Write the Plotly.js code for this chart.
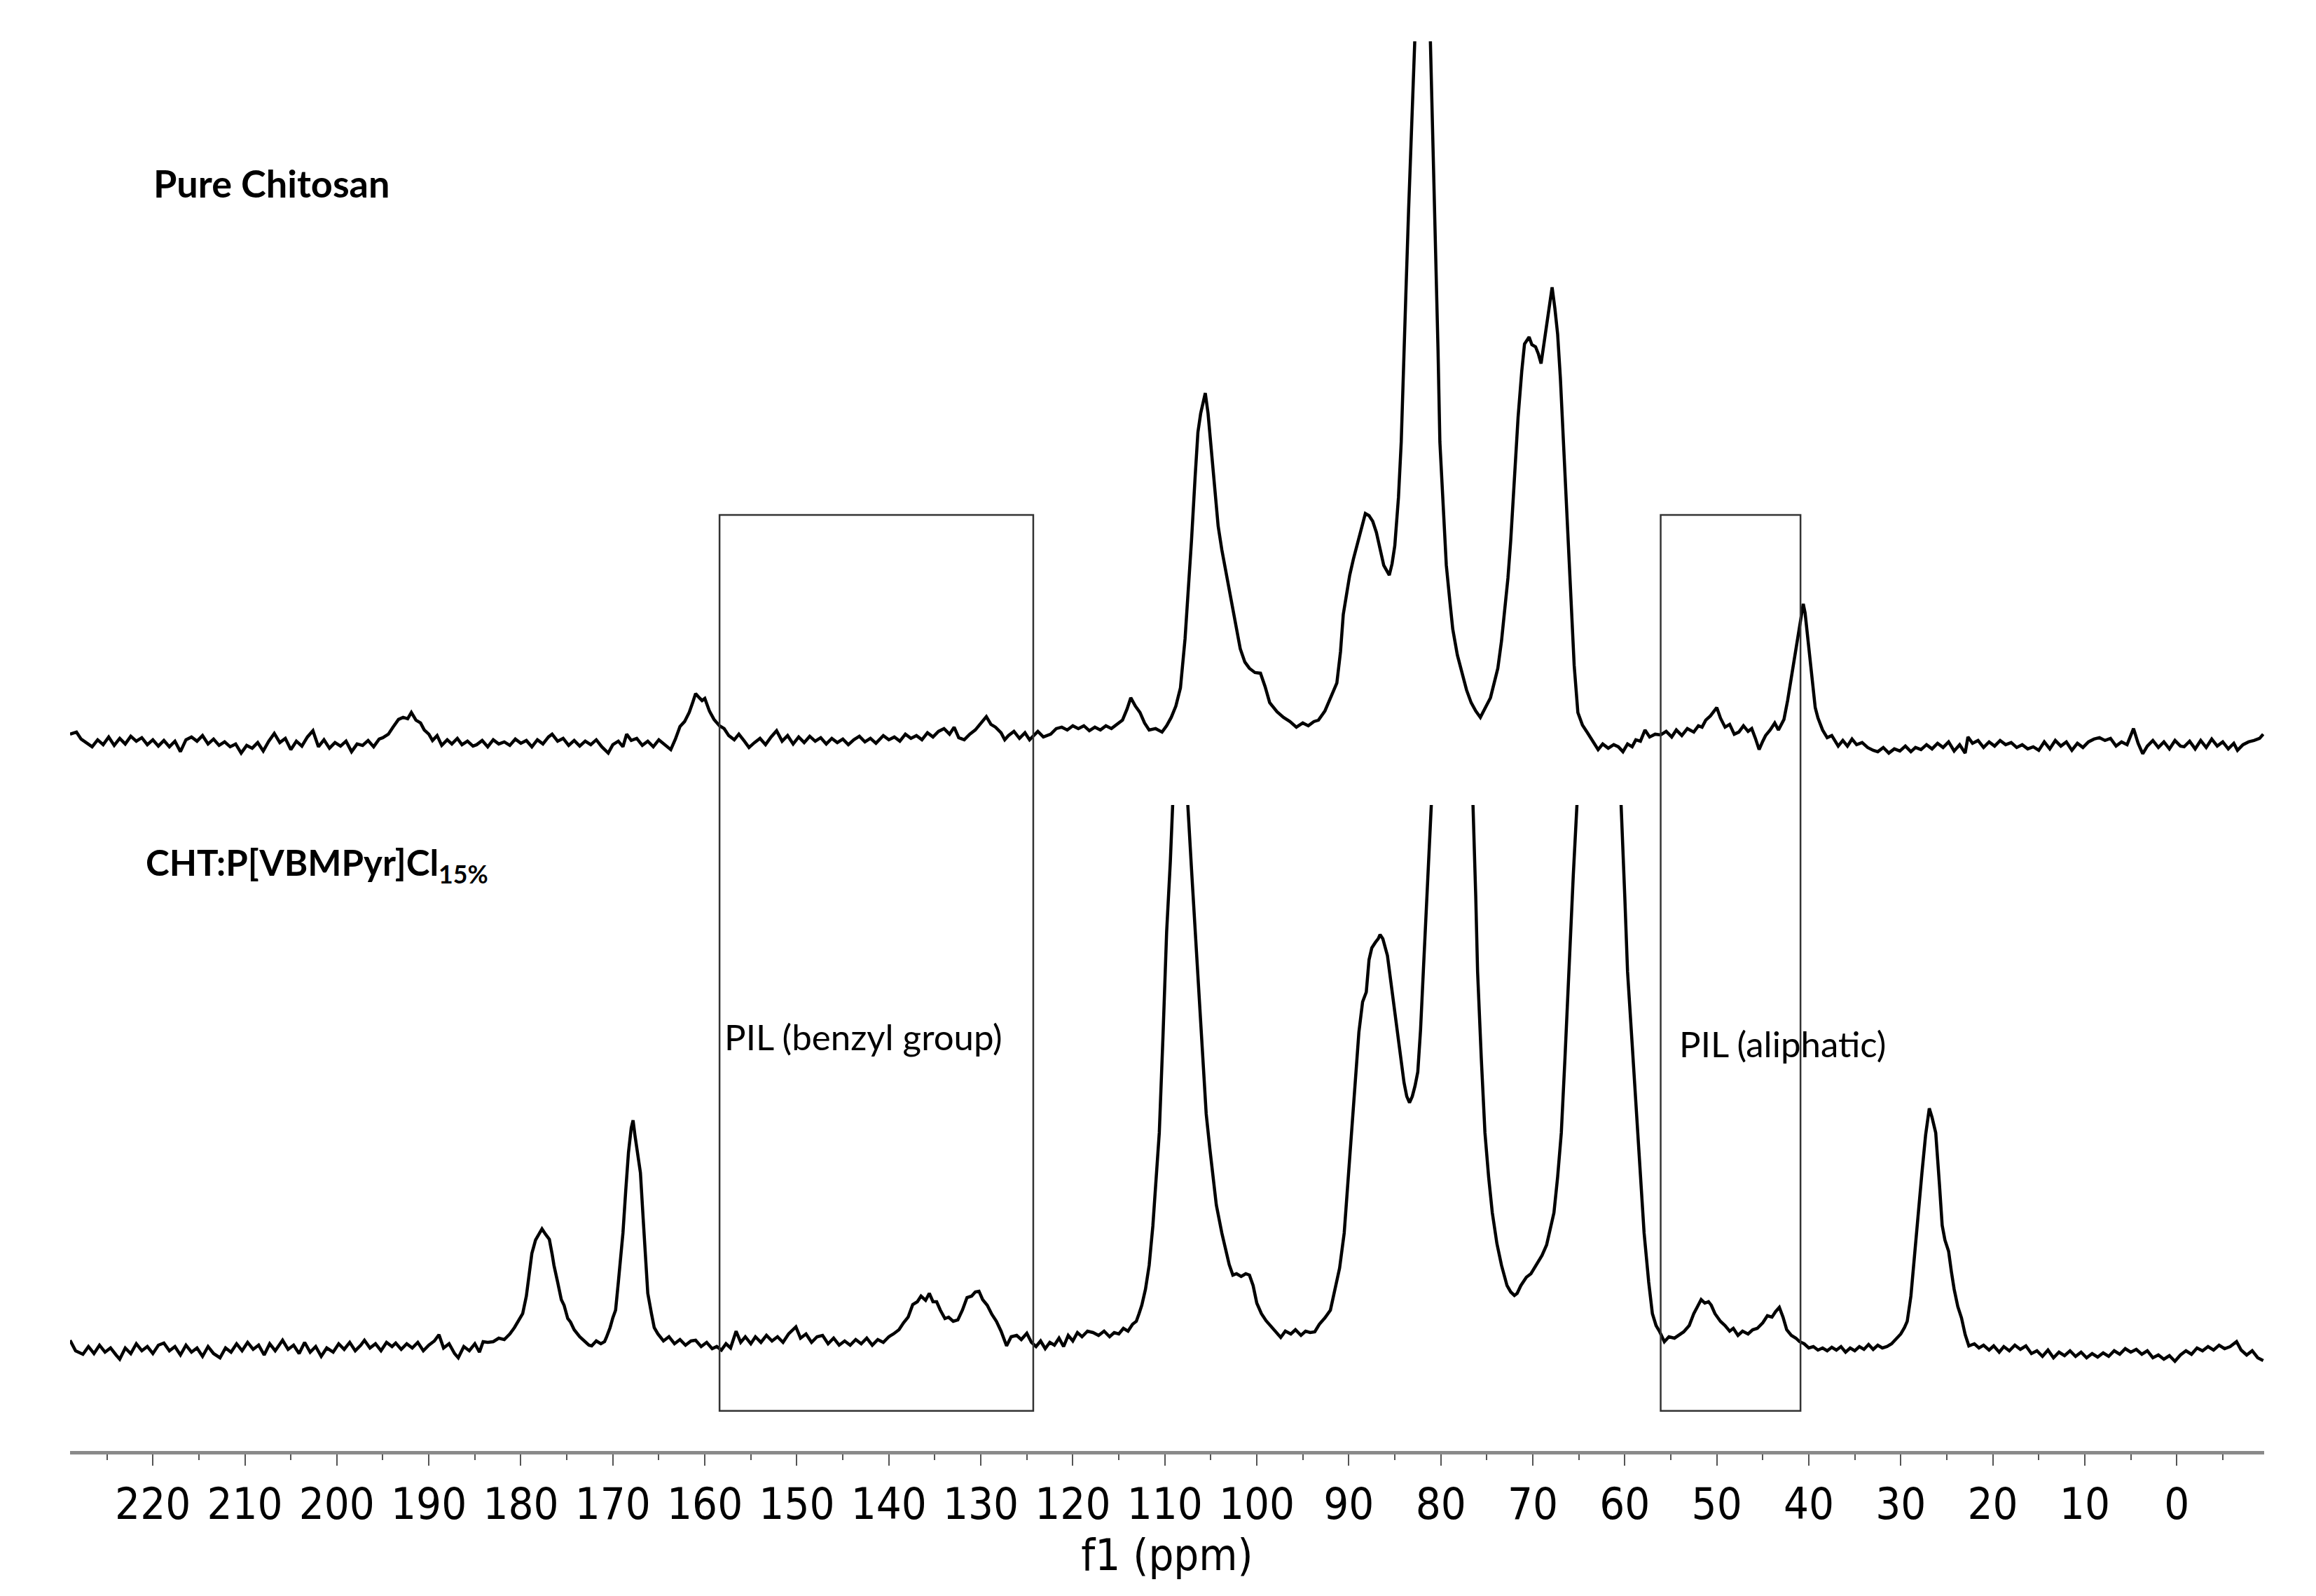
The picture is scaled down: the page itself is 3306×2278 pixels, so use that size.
<!DOCTYPE html>
<html>
<head>
<meta charset="utf-8">
<script src="https://cdn.plot.ly/plotly-3.0.1.min.js"></script>
<style>
  html, body { margin: 0; padding: 0; background: #ffffff; }
  #nmr { width: 3306px; height: 2278px; }
</style>
</head>
<body>
<div id="nmr"></div>
<script>
// 13C CP-MAS spectra, [shift in ppm, intensity in arbitrary units]
var chitosanPoints = [
  [229.0, 12], [228.3, 15], [227.8, 5], [227.2, 0], [226.6, -6], [226.0, 4], [225.4, -3], [224.8, 8],
  [224.2, -4], [223.6, 6], [223.0, -2], [222.4, 9], [221.8, 2], [221.2, 7], [220.6, -3], [220.0, 4],
  [219.4, -5], [218.8, 3], [218.2, -6], [217.6, 2], [217.0, -13], [216.4, 4], [215.8, 8], [215.2, 2],
  [214.6, 10], [214.0, -2], [213.4, 5], [212.8, -4], [212.2, 1], [211.6, -6], [211.0, -2], [210.4, -15],
  [209.8, -4], [209.2, -8], [208.6, 0], [208.0, -12], [207.4, 2], [206.8, 13], [206.2, 0], [205.6, 6],
  [205.0, -10], [204.4, 2], [203.8, -5], [203.2, 8], [202.6, 17], [202.0, -6], [201.4, 4], [200.8, -8],
  [200.2, 0], [199.6, -5], [199.0, 2], [198.4, -13], [197.8, -2], [197.2, -4], [196.6, 3], [196.0, -6],
  [195.4, 5], [195.0, 7], [194.4, 12], [193.9, 22], [193.3, 33], [192.8, 36], [192.3, 34], [191.9, 43],
  [191.4, 32], [190.9, 28], [190.5, 18], [190.0, 12], [189.6, 3], [189.1, 10], [188.6, -4], [188.0, 4],
  [187.5, -2], [186.9, 6], [186.4, -3], [185.8, 2], [185.2, -5], [184.8, -3], [184.2, 3], [183.6, -6],
  [183.0, 4], [182.4, -2], [181.8, 1], [181.2, -4], [180.6, 5], [180.0, -1], [179.4, 3], [178.8, -6],
  [178.2, 4], [177.6, -2], [177.0, 8], [176.6, 12], [176.0, 2], [175.4, 6], [174.8, -4], [174.2, 3],
  [173.6, -5], [173.0, 2], [172.4, -3], [171.8, 4], [171.2, -6], [170.5, -15], [170.0, -3], [169.4, 2],
  [168.9, -6], [168.5, 12], [168.0, 3], [167.4, 6], [166.8, -4], [166.2, 2], [165.6, -6], [165.0, 4],
  [164.4, -3], [163.7, -10], [163.2, 5], [162.7, 23], [162.2, 30], [161.7, 43], [161.3, 58], [161.0, 70],
  [160.6, 64], [160.3, 60], [160.0, 63], [159.5, 45], [159.0, 33], [158.4, 24], [157.9, 20], [157.4, 10],
  [156.8, 4], [156.3, 12], [155.7, 2], [155.2, -7], [154.6, 0], [154.0, 6], [153.4, -3], [152.8, 8],
  [152.2, 17], [151.6, 2], [151.0, 10], [150.4, -2], [149.8, 8], [149.2, 0], [148.6, 9], [148.0, 2],
  [147.4, 7], [146.8, -2], [146.2, 6], [145.6, 0], [145.0, 5], [144.4, -3], [143.8, 4], [143.2, 9],
  [142.6, 1], [142.0, 6], [141.4, -1], [140.6, 10], [140.0, 4], [139.4, 8], [138.8, 2], [138.2, 12],
  [137.6, 6], [137.0, 10], [136.4, 4], [135.8, 14], [135.2, 8], [134.6, 16], [134.0, 20], [133.4, 12],
  [132.9, 22], [132.4, 7], [131.8, 4], [131.2, 12], [130.6, 18], [130.0, 28], [129.4, 37], [128.9, 26],
  [128.4, 22], [127.8, 14], [127.4, 4], [127.0, 10], [126.4, 16], [125.8, 6], [125.2, 14], [124.7, 4],
  [124.3, 10], [123.8, 16], [123.2, 8], [122.4, 12], [121.8, 20], [121.2, 22], [120.6, 18], [120.0, 24],
  [119.4, 20], [118.8, 24], [118.2, 17], [117.6, 22], [117.0, 18], [116.4, 24], [115.8, 20], [115.2, 26],
  [114.6, 32], [114.1, 48], [113.7, 64], [113.2, 52], [112.7, 43], [112.2, 28], [111.7, 18], [111.0, 20],
  [110.3, 15], [109.8, 24], [109.3, 36], [108.8, 52], [108.3, 78], [107.8, 148], [107.4, 220], [107.1, 288],
  [106.7, 380], [106.4, 443], [106.1, 470], [105.8, 490], [105.6, 499], [105.3, 470], [104.9, 415], [104.5, 350],
  [104.2, 309], [103.8, 275], [103.5, 253], [103.1, 225], [102.7, 197], [102.2, 160], [101.8, 134], [101.3, 115],
  [100.8, 106], [100.2, 100], [99.6, 99], [99.1, 80], [98.6, 57], [97.8, 44], [97.1, 36], [96.4, 30],
  [95.7, 22], [95.0, 28], [94.4, 24], [93.8, 30], [93.3, 32], [92.6, 45], [92.0, 64], [91.6, 75],
  [91.3, 85], [90.9, 130], [90.6, 183], [90.2, 215], [89.9, 239], [89.5, 262], [89.1, 281], [88.6, 305],
  [88.2, 327], [87.8, 324], [87.4, 316], [87.0, 300], [86.7, 281], [86.2, 253], [85.6, 239], [85.3, 255],
  [85.0, 281], [84.6, 350], [84.3, 429], [84.0, 540], [83.8, 639], [83.5, 760], [83.3, 850], [82.9, 1000],
  [82.4, 1250], [82.0, 1300], [81.6, 1250], [81.1, 1000], [80.9, 870], [80.6, 709], [80.3, 560], [80.1, 429],
  [79.7, 330], [79.4, 253], [79.0, 200], [78.7, 162], [78.2, 125], [77.7, 99], [77.2, 75], [76.7, 57],
  [76.2, 45], [75.7, 36], [75.2, 48], [74.6, 64], [74.2, 85], [73.8, 106], [73.4, 145], [73.1, 183],
  [72.7, 235], [72.4, 288], [72.0, 380], [71.6, 464], [71.2, 530], [70.9, 569], [70.4, 579], [70.1, 568],
  [69.7, 565], [69.4, 555], [69.1, 541], [68.8, 570], [68.6, 590], [68.2, 625], [67.9, 650], [67.6, 620],
  [67.3, 583], [67.0, 520], [66.8, 464], [66.5, 390], [66.3, 323], [66.0, 250], [65.8, 183], [65.5, 110],
  [65.1, 43], [64.6, 25], [64.1, 15], [63.5, 2], [62.9, -10], [62.4, -2], [61.8, -8], [61.2, -3],
  [60.7, -6], [60.2, -13], [59.7, -2], [59.2, -6], [58.8, 4], [58.3, 2], [57.8, 18], [57.3, 8],
  [56.7, 12], [56.1, 11], [55.5, 16], [54.9, 8], [54.4, 18], [53.8, 10], [53.2, 20], [52.5, 15],
  [52.0, 24], [51.6, 22], [51.2, 32], [50.7, 38], [50.3, 45], [50.0, 50], [49.6, 35], [49.1, 22],
  [48.6, 26], [48.1, 12], [47.6, 15], [47.1, 24], [46.6, 16], [46.2, 20], [45.8, 6], [45.4, -10],
  [45.0, 2], [44.7, 10], [44.2, 18], [43.7, 28], [43.3, 18], [42.7, 33], [42.3, 60], [42.0, 85],
  [41.7, 110], [41.4, 135], [41.1, 160], [40.8, 185], [40.6, 198], [40.4, 185], [40.2, 160], [39.9, 120],
  [39.6, 77], [39.3, 50], [39.0, 35], [38.5, 18], [38.0, 7], [37.5, 10], [36.8, -5], [36.3, 3],
  [35.8, -5], [35.3, 5], [34.8, -3], [34.2, 0], [33.6, -7], [33.0, -11], [32.5, -13], [31.9, -7],
  [31.3, -15], [30.7, -9], [30.1, -12], [29.5, -5], [28.9, -13], [28.4, -7], [27.8, -10], [27.2, -3],
  [26.6, -9], [26.0, -1], [25.4, -7], [24.8, 1], [24.2, -12], [23.6, -3], [23.0, -15], [22.7, 8],
  [22.2, -1], [21.6, 3], [21.0, -7], [20.4, 1], [19.8, -5], [19.2, 3], [18.6, -3], [18.0, 0],
  [17.4, -7], [16.8, -3], [16.2, -9], [15.6, -6], [15.0, -11], [14.4, 1], [13.8, -9], [13.2, 3],
  [12.6, -5], [12.0, 1], [11.4, -11], [10.8, -1], [10.2, -7], [9.6, 1], [9.0, 5], [8.4, 7],
  [7.8, 3], [7.2, 6], [6.6, -5], [6.0, 1], [5.4, -3], [4.7, 20], [4.2, -1], [3.7, -16],
  [3.2, -5], [2.6, 3], [2.0, -7], [1.4, 1], [0.8, -9], [0.2, 3], [-0.4, -5], [-0.8, -6],
  [-1.4, 2], [-2.0, -9], [-2.6, 3], [-3.2, -7], [-3.8, 5], [-4.4, -5], [-5.0, 1], [-5.6, -9],
  [-6.2, -1], [-6.6, -11], [-7.2, -3], [-7.8, 1], [-8.4, 3], [-9.0, 6], [-9.4, 12]
];

var blendPoints = [
  [229.0, 17], [228.4, 2], [227.6, -3], [227.0, 8], [226.4, -2], [225.8, 10], [225.2, 0], [224.6, 6],
  [224.0, -4], [223.6, -10], [223.0, 6], [222.4, -2], [221.8, 12], [221.2, 2], [220.6, 8], [220.0, -2],
  [219.4, 10], [218.8, 13], [218.2, 2], [217.6, 8], [217.0, -4], [216.4, 10], [215.8, 0], [215.2, 6],
  [214.6, -6], [214.0, 8], [213.4, -2], [212.7, -8], [212.1, 6], [211.5, 0], [210.9, 12], [210.3, 2],
  [209.7, 14], [209.1, 4], [208.5, 10], [207.9, -4], [207.3, 12], [206.7, 2], [205.9, 17], [205.3, 4],
  [204.7, 10], [204.1, -2], [203.5, 14], [202.9, 0], [202.3, 8], [201.7, -6], [201.1, 6], [200.4, 0],
  [199.8, 12], [199.2, 4], [198.6, 14], [198.0, 2], [197.4, 10], [197.0, 17], [196.4, 6], [195.8, 12],
  [195.2, 2], [194.6, 14], [194.0, 8], [193.6, 13], [193.0, 4], [192.4, 12], [191.8, 6], [191.2, 14],
  [190.6, 2], [190.0, 10], [189.4, 16], [188.9, 25], [188.4, 6], [187.8, 12], [187.2, -2], [186.8, -8],
  [186.2, 8], [185.6, 2], [185.0, 12], [184.5, 0], [184.1, 15], [183.6, 14], [183.0, 15], [182.4, 20],
  [181.8, 18], [181.2, 26], [180.7, 35], [180.3, 44], [179.8, 55], [179.4, 80], [179.1, 110], [178.8, 141],
  [178.4, 160], [178.0, 170], [177.7, 176], [177.3, 168], [176.9, 161], [176.6, 140], [176.4, 124], [176.0, 100],
  [175.6, 75], [175.3, 67], [174.9, 48], [174.6, 43], [174.2, 32], [173.6, 22], [173.0, 14], [172.6, 10],
  [172.3, 9], [171.8, 16], [171.3, 12], [170.9, 15], [170.7, 21], [170.3, 35], [170.0, 49], [169.7, 60],
  [169.4, 100], [169.1, 140], [168.9, 170], [168.6, 230], [168.3, 285], [168.0, 320], [167.8, 331], [167.6, 310],
  [167.3, 280], [167.0, 256], [166.7, 190], [166.4, 130], [166.2, 84], [165.8, 55], [165.5, 35], [165.1, 26],
  [164.5, 16], [163.9, 22], [163.3, 12], [162.7, 18], [162.1, 10], [161.5, 16], [161.0, 17], [160.4, 8],
  [159.8, 14], [159.2, 5], [158.7, 8], [158.2, 3], [157.7, 12], [157.2, 6], [156.6, 30], [156.1, 14],
  [155.6, 22], [155.0, 12], [154.5, 22], [153.9, 14], [153.3, 24], [152.7, 16], [152.1, 22], [151.5, 14],
  [150.9, 26], [150.1, 36], [149.6, 20], [149.0, 26], [148.4, 14], [147.8, 22], [147.2, 24], [146.6, 12],
  [146.0, 20], [145.4, 10], [144.8, 16], [144.2, 10], [143.6, 18], [143.0, 12], [142.4, 20], [141.8, 10],
  [141.2, 18], [140.6, 14], [140.0, 22], [139.5, 26], [138.9, 32], [138.4, 42], [137.9, 50], [137.4, 68],
  [136.9, 72], [136.5, 80], [136.0, 74], [135.6, 84], [135.2, 72], [134.8, 72], [134.4, 60], [133.9, 48],
  [133.5, 50], [133.0, 44], [132.5, 46], [132.0, 60], [131.5, 78], [131.0, 80], [130.6, 86], [130.2, 87],
  [129.8, 75], [129.3, 67], [128.8, 54], [128.3, 44], [127.8, 30], [127.2, 9], [126.7, 22], [126.1, 24],
  [125.6, 18], [125.0, 27], [124.5, 14], [124.0, 8], [123.5, 16], [123.0, 5], [122.5, 14], [122.0, 10],
  [121.5, 20], [121.0, 8], [120.5, 24], [120.0, 16], [119.5, 28], [119.0, 22], [118.4, 30], [117.8, 28],
  [117.2, 24], [116.6, 30], [116.0, 22], [115.5, 28], [115.0, 26], [114.5, 34], [114.0, 30], [113.5, 40],
  [113.1, 44], [112.8, 55], [112.5, 67], [112.1, 90], [111.7, 124], [111.3, 180], [111.0, 240], [110.6, 313],
  [110.2, 450], [109.8, 600], [109.4, 700], [109.1, 781], [108.7, 950], [108.3, 1050], [107.9, 1000], [107.5, 781],
  [107.1, 690], [106.7, 600], [106.3, 514], [105.9, 420], [105.5, 340], [105.1, 290], [104.8, 256], [104.4, 210],
  [103.8, 170], [103.4, 147], [103.0, 125], [102.6, 110], [102.2, 112], [101.7, 108], [101.2, 112], [100.8, 110],
  [100.4, 95], [100.0, 70], [99.5, 55], [99.0, 45], [98.5, 38], [97.9, 28], [97.4, 21], [96.9, 30],
  [96.3, 26], [95.8, 32], [95.2, 24], [94.7, 30], [94.2, 28], [93.7, 29], [93.2, 40], [92.6, 49],
  [92.0, 60], [91.5, 90], [91.0, 120], [90.5, 170], [90.1, 240], [89.7, 313], [89.3, 390], [88.9, 457],
  [88.5, 500], [88.1, 514], [87.8, 560], [87.5, 577], [87.1, 585], [86.8, 590], [86.6, 596], [86.3, 590],
  [85.8, 566], [85.5, 535], [85.1, 497], [84.7, 460], [84.3, 417], [84.0, 385], [83.7, 365], [83.4, 356],
  [83.1, 365], [82.8, 380], [82.5, 400], [82.2, 460], [81.9, 543], [81.6, 620], [81.4, 686], [81.0, 781],
  [80.5, 950], [79.5, 1200], [78.5, 1150], [77.5, 1200], [77.0, 950], [76.5, 781], [76.2, 650], [76.0, 543],
  [75.6, 420], [75.2, 313], [74.8, 250], [74.4, 199], [73.9, 155], [73.4, 124], [72.8, 95], [72.4, 86],
  [72.0, 81], [71.7, 84], [71.3, 95], [70.7, 107], [70.2, 112], [69.6, 124], [69.0, 138], [68.5, 153],
  [68.1, 175], [67.7, 199], [67.3, 250], [66.9, 313], [66.5, 420], [66.1, 543], [65.6, 680], [65.2, 781],
  [64.5, 1000], [63.5, 1200], [62.5, 1250], [61.5, 1150], [60.8, 950], [60.4, 781], [60.0, 650], [59.7, 543],
  [59.2, 440], [58.7, 342], [58.3, 250], [57.9, 170], [57.4, 100], [57.0, 55], [56.6, 38], [56.2, 29],
  [55.7, 15], [55.2, 22], [54.6, 20], [54.1, 24], [53.6, 29], [53.0, 38], [52.5, 55], [52.1, 65],
  [51.7, 75], [51.3, 70], [50.9, 72], [50.6, 67], [50.2, 55], [49.6, 44], [49.1, 38], [48.6, 30],
  [48.2, 34], [47.7, 24], [47.2, 30], [46.6, 26], [46.1, 32], [45.6, 34], [45.0, 42], [44.5, 52],
  [44.0, 50], [43.6, 58], [43.2, 64], [42.8, 50], [42.4, 32], [41.9, 24], [41.4, 20], [41.0, 15],
  [40.5, 12], [40.0, 6], [39.5, 8], [39.0, 3], [38.5, 6], [38.0, 2], [37.5, 7], [37.0, 3],
  [36.5, 8], [36.0, 0], [35.5, 6], [35.0, 2], [34.5, 8], [34.0, 4], [33.5, 11], [33.0, 4],
  [32.5, 10], [32.0, 6], [31.5, 8], [31.0, 12], [30.6, 18], [30.0, 26], [29.6, 35], [29.3, 44],
  [28.9, 80], [28.5, 141], [28.1, 200], [27.7, 256], [27.3, 310], [26.9, 348], [26.6, 335], [26.2, 313],
  [25.8, 240], [25.5, 181], [25.2, 160], [24.8, 144], [24.5, 115], [24.2, 90], [23.8, 65], [23.4, 49],
  [23.0, 25], [22.6, 9], [22.0, 12], [21.5, 6], [21.0, 10], [20.4, 3], [19.9, 9], [19.3, 0],
  [18.8, 8], [18.2, 2], [17.6, 10], [17.0, 4], [16.4, 9], [15.8, -2], [15.2, 2], [14.6, -6],
  [14.0, 3], [13.4, -8], [12.8, 0], [12.2, -5], [11.6, 2], [11.0, -6], [10.4, 0], [9.8, -8],
  [9.2, -2], [8.6, -7], [8.0, -1], [7.4, -6], [6.8, 2], [6.2, -3], [5.6, 5], [5.0, 0],
  [4.4, 4], [3.8, -3], [3.2, 2], [2.6, -8], [2.0, -4], [1.4, -10], [0.8, -5], [0.2, -13],
  [-0.4, -4], [-1.0, 2], [-1.6, -3], [-2.2, 6], [-2.8, 2], [-3.4, 8], [-4.0, 3], [-4.6, 10],
  [-5.2, 5], [-5.8, 8], [-6.5, 15], [-7.0, 3], [-7.6, -4], [-8.2, 2], [-8.8, -8], [-9.4, -12]
];

var shiftRange = [229, -9.5];
var sampleLabels = ['Pure Chitosan', 'CHT:P[VBMPyr]Cl<sub>15%</sub>'];
var regionLabels = ['PIL (benzyl group)', 'PIL (aliphatic)'];
var regionBounds = [[158.4, 124.3], [56.1, 40.9]];

var splitY = 0.4583;
var axisFont = 'DejaVu Sans Condensed, DejaVu Sans, sans-serif';

var traces = [
  {
    x: chitosanPoints.map(function (p) { return p[0]; }),
    y: chitosanPoints.map(function (p) { return p[1]; }),
    xaxis: 'x', yaxis: 'y2',
    type: 'scatter', mode: 'lines',
    line: {color: '#000000', width: 4.5},
    hoverinfo: 'skip'
  },
  {
    x: blendPoints.map(function (p) { return p[0]; }),
    y: blendPoints.map(function (p) { return p[1]; }),
    xaxis: 'x', yaxis: 'y',
    type: 'scatter', mode: 'lines',
    line: {color: '#000000', width: 4.5},
    hoverinfo: 'skip'
  }
];

var boxes = regionBounds.map(function (b) {
  return {
    type: 'rect', xref: 'x', yref: 'paper',
    x0: b[0], x1: b[1], y0: 0.0285, y1: 0.664,
    line: {color: '#333333', width: 2.5}
  };
});

var layout = {
  width: 3306,
  height: 2278,
  paper_bgcolor: '#ffffff',
  plot_bgcolor: '#ffffff',
  showlegend: false,
  hovermode: false,
  margin: {l: 100, r: 74, t: 59, b: 207, pad: 0},
  font: {family: axisFont, color: '#000000', size: 63},
  xaxis: {
    range: shiftRange,
    showgrid: false,
    zeroline: false,
    showline: true,
    linecolor: '#8a8a8a',
    linewidth: 5,
    ticks: 'outside',
    ticklen: 16,
    tickwidth: 2,
    tickcolor: '#555555',
    tick0: 0,
    dtick: 10,
    minor: {dtick: 5, ticks: 'outside', ticklen: 8, tickwidth: 2, tickcolor: '#555555', showgrid: false},
    tickfont: {family: axisFont, size: 63, color: '#000000'},
    title: {text: 'f1 (ppm)', standoff: 4, font: {family: axisFont, size: 63, color: '#000000'}},
    fixedrange: true
  },
  yaxis: {
    domain: [0, splitY],
    range: [-141, 781],
    visible: false,
    fixedrange: true
  },
  yaxis2: {
    domain: [splitY, 1],
    range: [-89, 1001],
    anchor: 'x',
    visible: false,
    fixedrange: true
  },
  shapes: boxes,
  annotations: [
    {text: '<b>' + sampleLabels[0] + '</b>', xref: 'paper', yref: 'paper', x: 0.0374, y: 0.8996,
     xanchor: 'left', yanchor: 'middle', showarrow: false,
     font: {family: 'Lato, sans-serif', size: 54, color: '#000000'}},
    {text: '<b>' + sampleLabels[1] + '</b>', xref: 'paper', yref: 'paper', x: 0.0338, y: 0.4160,
     xanchor: 'left', yanchor: 'middle', showarrow: false,
     font: {family: 'Lato, sans-serif', size: 51, color: '#000000'}},
    {text: regionLabels[0], xref: 'x', yref: 'paper', x: 158.0, y: 0.2942,
     xanchor: 'left', yanchor: 'middle', showarrow: false,
     font: {family: 'Lato, sans-serif', size: 51, color: '#000000'}},
    {text: regionLabels[1], xref: 'x', yref: 'paper', x: 54.2, y: 0.2888,
     xanchor: 'left', yanchor: 'middle', showarrow: false,
     font: {family: 'Lato, sans-serif', size: 51, color: '#000000'}}
  ]
};

Plotly.newPlot('nmr', traces, layout, {displayModeBar: false, responsive: false, staticPlot: true});
</script>
</body>
</html>
